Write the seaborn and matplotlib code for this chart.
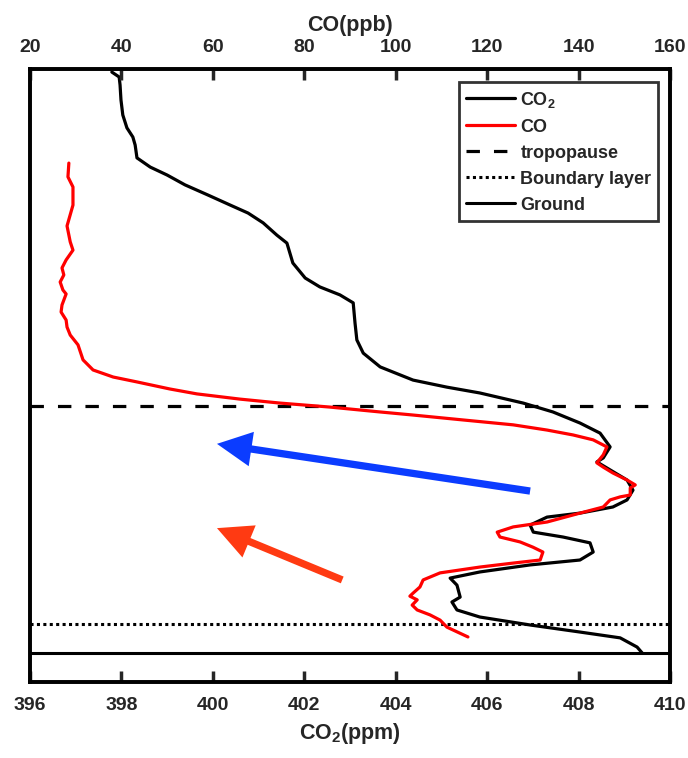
import matplotlib
matplotlib.use("Agg")
import matplotlib.pyplot as plt
import seaborn as sns
import pandas as pd
from matplotlib.lines import Line2D

# ---------------- data ----------------
co2_ppm = [397.79, 397.95, 397.97, 397.99, 398.03, 398.12, 398.25, 398.30, 398.34, 398.63,
           399.00, 399.39, 399.89, 400.38, 400.77, 401.10, 401.40, 401.62, 401.75, 402.02,
           402.34, 402.78, 403.07, 403.11, 403.15, 403.29, 403.66, 404.38, 405.12, 405.84,
           406.79, 407.44, 408.03, 408.47, 408.69, 408.54, 408.40, 408.69, 409.06, 409.19,
           409.06, 408.75, 408.03, 407.31, 406.94, 407.01, 407.66, 408.25, 408.32, 408.03,
           406.94, 405.84, 405.19, 405.34, 405.41, 405.23, 405.34, 405.84, 406.94, 408.03,
           408.91, 409.28, 409.39]
co2_alt = [19.90, 19.74, 19.48, 18.99, 18.50, 18.08, 17.78, 17.52, 17.10, 16.80,
           16.54, 16.22, 15.89, 15.56, 15.30, 14.98, 14.58, 14.32, 13.67, 13.18,
           12.89, 12.63, 12.37, 11.71, 11.16, 10.73, 10.28, 9.85, 9.62, 9.43,
           9.10, 8.81, 8.45, 8.12, 7.67, 7.31, 7.18, 6.92, 6.59, 6.26,
           5.94, 5.71, 5.51, 5.38, 5.12, 4.89, 4.73, 4.54, 4.24, 3.98,
           3.82, 3.59, 3.39, 3.16, 2.77, 2.61, 2.35, 2.12, 1.86, 1.63,
           1.44, 1.14, 0.95]

co_ppb = [28.5, 28.3, 29.4, 29.4, 28.1, 28.8, 29.4, 27.9, 27.0, 27.4,
          26.6, 27.2, 27.9, 27.0, 26.8, 27.9, 28.1, 28.8, 30.5, 31.6,
          33.8, 38.2, 43.4, 50.6, 56.5, 65.9, 74.7, 85.6, 96.6, 103.8,
          114.7, 125.7, 133.1, 138.8, 143.2, 146.2, 145.4, 144.0, 145.4, 147.5,
          150.6, 152.4, 151.3, 151.3, 149.1, 146.9, 145.4, 140.3, 133.1, 125.7,
          122.2, 122.8, 127.2, 130.0, 132.2, 131.6, 125.7, 118.4, 109.7, 106.0,
          105.3, 103.8, 103.1, 104.7, 103.6, 104.7, 107.5, 109.7, 111.2, 115.8]
co_alt = [16.93, 16.48, 16.15, 15.56, 14.88, 14.36, 14.09, 13.77, 13.51, 13.28,
          13.05, 12.79, 12.66, 12.30, 12.07, 11.81, 11.58, 11.32, 11.00, 10.51,
          10.18, 9.95, 9.79, 9.56, 9.40, 9.23, 9.10, 8.97, 8.81, 8.71,
          8.55, 8.39, 8.22, 8.06, 7.90, 7.67, 7.41, 7.15, 7.01, 6.82,
          6.59, 6.43, 6.33, 6.10, 6.04, 5.94, 5.71, 5.51, 5.22, 5.06,
          4.89, 4.73, 4.57, 4.40, 4.24, 3.98, 3.88, 3.75, 3.56, 3.33,
          3.10, 2.90, 2.80, 2.68, 2.51, 2.35, 2.19, 2.02, 1.79, 1.47]

tropopause_alt = 9.0
boundary_alt = 1.89
ground_alt = 0.95

co2_ticks = [396, 398, 400, 402, 404, 406, 408, 410]
co_ticks = [20, 40, 60, 80, 100, 120, 140, 160]

# arrows (tail -> tip) in CO2 / altitude coordinates
blue_arrow = [(406.94, 6.23), (400.09, 7.77)]
red_arrow = [(402.83, 3.33), (400.09, 5.02)]

# ---------------- style ----------------
sns.set_style("white")
plt.rcParams['font.family'] = ['Liberation Sans', 'DejaVu Sans']
plt.rcParams['font.weight'] = 'bold'
plt.rcParams['axes.labelweight'] = 'bold'
plt.rcParams['mathtext.fontset'] = 'custom'
plt.rcParams['mathtext.rm'] = 'Liberation Sans:bold'
plt.rcParams['mathtext.it'] = 'Liberation Sans:bold'
plt.rcParams['mathtext.bf'] = 'Liberation Sans:bold'

fig = plt.figure(figsize=(6.88, 7.58), dpi=100)
ax = fig.add_axes([30/688, 1-682/758, 640/688, 613/758])

df_co2 = pd.DataFrame({"co2": co2_ppm, "alt": co2_alt})
df_co = pd.DataFrame({"co": co_ppb, "alt": co_alt})

sns.lineplot(data=df_co2, x="co2", y="alt", sort=False, estimator=None,
             color="black", lw=2.3, ax=ax)
ax.axhline(tropopause_alt, color="black", lw=2.3, linestyle=(0, (4.2, 4.4)))
ax.axhline(boundary_alt, color="black", lw=2.2, linestyle=(0, (1, 1.1)))
ax.axhline(ground_alt, color="black", lw=2.2)

ax.set_xlim(396, 410)
ax.set_ylim(0, 20)
ax.set_xticks(co2_ticks)
ax.set_yticks([])
ax.set_ylabel("")
ax.set_xlabel("CO$_2$(ppm)", fontsize=15.5, fontweight='bold', labelpad=5)
ax.tick_params(axis='x', direction='in', length=8, width=2.5, labelsize=14, pad=11,
               bottom=True, top=False)

for (tail, tip, col) in [(blue_arrow[0], blue_arrow[1], '#0B3CFF'),
                         (red_arrow[0], red_arrow[1], '#FF3A12')]:
    ax.annotate("", xy=tip, xytext=tail,
                arrowprops=dict(arrowstyle="simple,head_length=1.0,head_width=1.0,tail_width=0.21",
                                mutation_scale=25, color=col, shrinkA=0, shrinkB=0, lw=0))

ax2 = ax.twiny()
sns.lineplot(data=df_co, x="co", y="alt", sort=False, estimator=None,
             color="red", lw=2.3, ax=ax2)
ax2.set_xlim(20, 160)
ax2.set_ylim(0, 20)
ax2.set_xticks(co_ticks)
ax2.set_xlabel("CO(ppb)", fontsize=15.5, fontweight='bold', labelpad=6)
ax2.tick_params(axis='x', direction='in', length=8, width=2.5, labelsize=14, pad=9,
                top=True, bottom=False)
ax2.set_ylabel("")

for a in (ax, ax2):
    for s in a.spines.values():
        s.set_linewidth(2.6)
        s.set_color("black")
    for lab in a.get_xticklabels():
        lab.set_fontweight('bold')

handles = [Line2D([], [], color="black", lw=2.3),
           Line2D([], [], color="red", lw=2.3),
           Line2D([], [], color="black", lw=2.3, linestyle=(0, (4.2, 4.4))),
           Line2D([], [], color="black", lw=2.2, linestyle=(0, (1, 1.1))),
           Line2D([], [], color="black", lw=2.2)]
labels = ["CO$_2$", "CO", "tropopause", "Boundary layer", "Ground"]
leg = ax2.legend(handles, labels, loc="upper right", bbox_to_anchor=(0.982, 0.978),
                 fancybox=False, framealpha=1, edgecolor="#333333",
                 prop={'size': 13, 'weight': 'bold'}, handlelength=2.7,
                 handletextpad=0.3, labelspacing=0.5, borderpad=0.4,
                 borderaxespad=0)
leg.get_frame().set_linewidth(2.0)

fig.savefig("out.png", dpi=100)
